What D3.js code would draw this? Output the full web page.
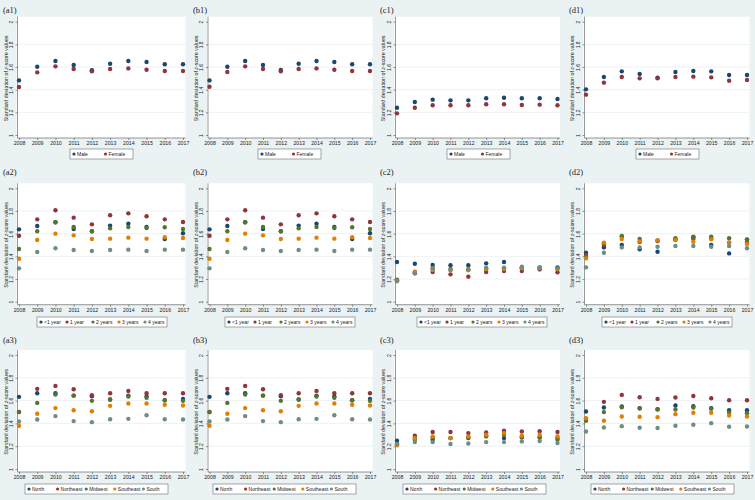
<!DOCTYPE html>
<html><head><meta charset="utf-8">
<script src="https://cdn.jsdelivr.net/npm/d3@7"></script>
<style>body{margin:0;background:#eaf2f3}svg{display:block}</style>
</head><body>
<script>
const years = [2008,2009,2010,2011,2012,2013,2014,2015,2016,2017];
const yTicks = [1,1.2,1.4,1.6,1.8,2];
const sexLabels = ["Male","Female"];
const ageLabels = ["<1 year","1 year","2 years","3 years","4 years"];
const regionLabels = ["North","Northeast","Midwest","Southeast","South"];
const colors = ["#1a476f","#90353b","#55752f","#e37e00","#6e8e84"];
const panelNames = [["(a1)","(b1)","(c1)","(d1)"],["(a2)","(b2)","(c2)","(d2)"],["(a3)","(b3)","(c3)","(d3)"]];

// Row 1: sex
const a1Male   = [1.482,1.603,1.653,1.618,1.571,1.629,1.653,1.644,1.624,1.624];
const a1Female = [1.424,1.553,1.606,1.582,1.562,1.582,1.588,1.576,1.565,1.565];
const b1Male   = [1.482,1.603,1.653,1.618,1.574,1.629,1.653,1.644,1.624,1.624];
const b1Female = [1.426,1.556,1.606,1.582,1.562,1.582,1.588,1.576,1.565,1.565];
const c1Male   = [1.241,1.291,1.312,1.306,1.306,1.324,1.329,1.324,1.324,1.318];
const c1Female = [1.191,1.241,1.262,1.262,1.262,1.271,1.271,1.265,1.268,1.262];
const d1Male   = [1.403,1.512,1.562,1.538,1.506,1.556,1.565,1.562,1.529,1.529];
const d1Female = [1.356,1.462,1.512,1.500,1.500,1.512,1.515,1.509,1.479,1.485];

// Row 2: age
const a2Lt1 = [1.638,1.668,1.700,1.641,1.621,1.671,1.688,1.659,1.553,1.603];
const a2Y1  = [1.582,1.726,1.806,1.741,1.682,1.762,1.779,1.753,1.726,1.703];
const a2Y2  = [1.465,1.621,1.700,1.659,1.621,1.647,1.659,1.650,1.656,1.641];
const a2Y3  = [1.379,1.544,1.600,1.585,1.553,1.556,1.565,1.556,1.568,1.562];
const a2Y4  = [1.294,1.438,1.471,1.456,1.447,1.456,1.459,1.447,1.459,1.459];
const b2Lt1 = [1.638,1.668,1.700,1.641,1.621,1.671,1.688,1.659,1.553,1.603];
const b2Y1  = [1.582,1.726,1.806,1.741,1.682,1.762,1.779,1.753,1.726,1.703];
const b2Y2  = [1.465,1.621,1.700,1.659,1.621,1.647,1.659,1.650,1.656,1.641];
const b2Y3  = [1.379,1.544,1.600,1.585,1.553,1.556,1.565,1.556,1.568,1.562];
const b2Y4  = [1.294,1.438,1.471,1.456,1.447,1.456,1.459,1.447,1.459,1.459];
const c2Lt1 = [1.350,1.335,1.324,1.321,1.321,1.338,1.350,1.300,1.300,1.303];
const c2Y1  = [1.190,1.250,1.262,1.241,1.221,1.262,1.271,1.271,1.285,1.259];
const c2Y2  = [1.195,1.262,1.297,1.288,1.279,1.288,1.294,1.294,1.300,1.290];
const c2Y3  = [1.180,1.265,1.279,1.279,1.279,1.288,1.288,1.297,1.297,1.288];
const c2Y4  = [1.185,1.250,1.291,1.279,1.288,1.300,1.300,1.309,1.303,1.294];
const d2Lt1 = [1.432,1.479,1.500,1.462,1.441,1.547,1.568,1.500,1.426,1.550];
const d2Y1  = [1.412,1.500,1.574,1.526,1.535,1.553,1.553,1.559,1.521,1.521];
const d2Y2  = [1.397,1.515,1.579,1.553,1.541,1.559,1.574,1.574,1.559,1.544];
const d2Y3  = [1.382,1.521,1.553,1.532,1.541,1.544,1.529,1.550,1.521,1.509];
const d2Y4  = [1.303,1.432,1.479,1.479,1.485,1.491,1.491,1.485,1.491,1.471];

// Row 3: region
const a3North     = [1.633,1.665,1.665,1.644,1.638,1.609,1.644,1.636,1.603,1.615];
const a3Northeast = [1.500,1.703,1.729,1.700,1.647,1.665,1.685,1.665,1.665,1.665];
const a3Midwest   = [1.499,1.580,1.653,1.644,1.598,1.609,1.636,1.624,1.603,1.598];
const a3Southeast = [1.379,1.484,1.534,1.516,1.507,1.554,1.574,1.574,1.563,1.557];
const a3South     = [1.417,1.434,1.464,1.420,1.411,1.437,1.440,1.472,1.437,1.434];
const b3North     = [1.633,1.665,1.665,1.644,1.638,1.609,1.644,1.636,1.603,1.615];
const b3Northeast = [1.500,1.703,1.729,1.700,1.647,1.665,1.685,1.665,1.665,1.665];
const b3Midwest   = [1.499,1.580,1.653,1.644,1.598,1.609,1.636,1.624,1.603,1.598];
const b3Southeast = [1.379,1.484,1.534,1.516,1.507,1.554,1.574,1.574,1.563,1.557];
const b3South     = [1.417,1.434,1.464,1.420,1.411,1.437,1.440,1.472,1.437,1.434];
const c3North     = [1.248,1.271,1.257,1.271,1.271,1.292,1.271,1.277,1.277,1.271];
const c3Northeast = [1.222,1.292,1.324,1.324,1.315,1.321,1.335,1.329,1.332,1.324];
const c3Midwest   = [1.215,1.257,1.277,1.271,1.277,1.286,1.300,1.280,1.280,1.257];
const c3Southeast = [1.208,1.271,1.286,1.271,1.286,1.300,1.315,1.292,1.300,1.286];
const c3South     = [1.219,1.236,1.236,1.219,1.224,1.236,1.236,1.242,1.245,1.227];
const d3North     = [1.504,1.539,1.548,1.534,1.525,1.557,1.551,1.534,1.516,1.516];
const d3Northeast = [1.440,1.589,1.650,1.630,1.615,1.627,1.641,1.621,1.603,1.603];
const d3Midwest   = [1.423,1.499,1.542,1.531,1.522,1.522,1.539,1.528,1.496,1.490];
const d3Southeast = [1.446,1.423,1.461,1.458,1.455,1.481,1.493,1.493,1.469,1.461];
const d3South     = [1.329,1.364,1.376,1.362,1.359,1.379,1.388,1.402,1.370,1.373];

const panels = [
  [[a1Male,a1Female],[b1Male,b1Female],[c1Male,c1Female],[d1Male,d1Female]],
  [[a2Lt1,a2Y1,a2Y2,a2Y3,a2Y4],[b2Lt1,b2Y1,b2Y2,b2Y3,b2Y4],[c2Lt1,c2Y1,c2Y2,c2Y3,c2Y4],[d2Lt1,d2Y1,d2Y2,d2Y3,d2Y4]],
  [[a3North,a3Northeast,a3Midwest,a3Southeast,a3South],[b3North,b3Northeast,b3Midwest,b3Southeast,b3South],
   [c3North,c3Northeast,c3Midwest,c3Southeast,c3South],[d3North,d3Northeast,d3Midwest,d3Southeast,d3South]]
];
const rowLabels = [sexLabels, ageLabels, regionLabels];

// layout
const colX = [[19,183],[209.5,370],[397,557.5],[586,747]];
const rowY = [[135,21.7],[301.7,188.3],[469,355]];
const panelTop = [0,163,329];
const colLeft = [0,190,377,566];

const W = 755, H = 500;
const svg = d3.select("body").append("svg").attr("width",W).attr("height",H)
  .style("font-family","'Liberation Sans', Arial, sans-serif");
svg.append("rect").attr("width",W).attr("height",H).attr("fill","#eaf2f3");

const legendGeom = [
  {x0:[70,68,70,70], w:63, y:149, h:10},
  {x0:[37,35,40,36], w:130, y:317, h:10},
  {x0:[25,23,26,25], w:143, y:484, h:10}
];

for (let r=0;r<3;r++){
  for (let c=0;c<4;c++){
    const x = d3.scaleLinear().domain([2008,2017]).range(colX[c]);
    const y = d3.scaleLinear().domain([1,2]).range(rowY[r]);
    const g = svg.append("g");
    // plot region
    g.append("rect").attr("x",x(2008)-2.5).attr("y",y(2)-5)
      .attr("width",x(2017)-x(2008)+5).attr("height",y(1)-y(2)+8).attr("fill","#fff");
    // grid
    g.selectAll("line.grid").data([1.2,1.4,1.6,1.8]).enter().append("line")
      .attr("x1",x(2008)-1).attr("x2",x(2017)+2.5).attr("y1",d=>y(d)).attr("y2",d=>y(d))
      .attr("stroke","#e8eef0").attr("stroke-width",0.8);
    // y axis
    const ya = g.append("g").attr("transform",`translate(${x(2008)-1.5},0)`)
      .call(d3.axisLeft(y).tickValues(yTicks).tickFormat(d3.format("")).tickSize(2).tickPadding(2));
    ya.select(".domain").attr("d",`M-2,${y(1)+3}H0V${y(2)-5}H-2`).attr("stroke","#333").attr("stroke-width",0.5).attr("d",`M0,${y(1)+3}V${y(2)-5}`);
    ya.selectAll(".tick line").attr("stroke","#333").attr("stroke-width",0.5);
    ya.selectAll(".tick text").attr("font-size",5).attr("fill","#222")
      .attr("transform","rotate(-90)").attr("x",0).attr("y",-5).attr("dy","0").attr("text-anchor","middle");
    // x axis
    const xa = g.append("g").attr("transform",`translate(0,${y(1)+3})`)
      .call(d3.axisBottom(x).tickValues(years).tickFormat(d3.format("d")).tickSize(2).tickPadding(1.5));
    xa.select(".domain").attr("stroke","#333").attr("stroke-width",0.5).attr("d",`M${x(2008)-1.5},0H${x(2017)+2.5}`);
    xa.selectAll(".tick line").attr("stroke","#333").attr("stroke-width",0.5);
    xa.selectAll(".tick text").attr("font-size",5.2).attr("fill","#222");
    // y title
    g.append("text").attr("transform",`translate(${colLeft[c]+7.5},${(y(1)+y(2))/2}) rotate(-90)`)
      .attr("text-anchor","middle").attr("font-size",5.3).attr("fill","#222")
      .html('Standard deviation of <tspan font-style="italic">z</tspan>-score values');
    // panel label
    g.append("text").attr("x",colLeft[c]+3).attr("y",panelTop[r]+ (r===0?13:(r===1?12:14)))
      .attr("font-size",8.5).attr("fill","#222")
      .attr("font-family","'Liberation Serif', serif").text(panelNames[r][c]);
    // points
    const series = panels[r][c];
    series.forEach((vals,si)=>{
      g.selectAll(null).data(vals).enter().append("circle")
        .attr("cx",(d,i)=>x(years[i])).attr("cy",d=>y(d)).attr("r",2.2)
        .attr("fill",colors[si]);
    });
    // legend
    const lg = legendGeom[r];
    const lx = colLeft[c] + lg.x0[c];
    g.append("rect").attr("x",lx).attr("y",lg.y).attr("width",lg.w).attr("height",lg.h)
      .attr("fill","#fff").attr("stroke","#555").attr("stroke-width",0.5);
    const labs = rowLabels[r];
    const step = lg.w / labs.length;
    labs.forEach((lab,i)=>{
      const ix = lx + 4 + i*step;
      g.append("circle").attr("cx",ix).attr("cy",lg.y+lg.h/2).attr("r",1.6).attr("fill",colors[i]);
      g.append("text").attr("x",ix+3).attr("y",lg.y+lg.h/2+1.8).attr("font-size",5)
        .attr("fill","#222").text(lab);
    });
  }
}
</script>
</body></html>
